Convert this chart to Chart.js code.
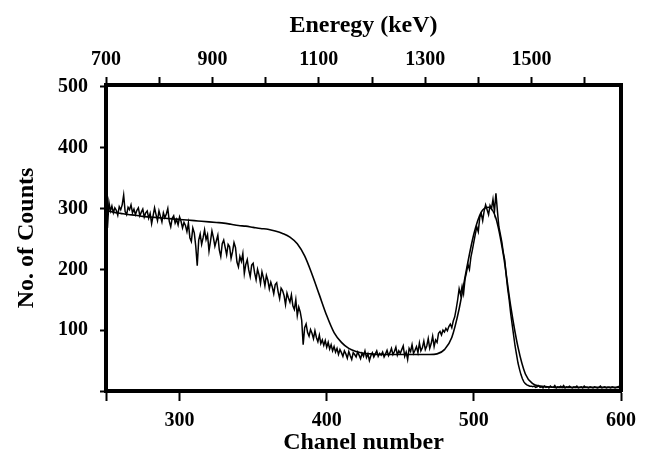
<!DOCTYPE html>
<html>
<head>
<meta charset="utf-8">
<script src="https://cdn.jsdelivr.net/npm/chart.js@4.4.1/dist/chart.umd.min.js"></script>
<style>
  html, body { margin: 0; padding: 0; background: #fff; }
</style>
</head>
<body>
<canvas id="chart" width="646" height="462"></canvas>
<script>
// measured spectrum, one count value per channel, channels 250..600
var measStart = 250, measStep = 1;
var measured = [
  300, 268, 310, 296, 304, 293, 301, 297, 289, 303,
  298, 306, 322, 295, 290, 302, 298, 306, 293, 299,
  290, 297, 301, 288, 294, 299, 286, 293, 296, 284,
  292, 275, 288, 301, 290, 280, 296, 287, 278, 293,
  285, 291, 300, 279, 270, 284, 288, 276, 282, 273,
  286, 279, 268, 277, 272, 262, 276, 252, 246, 268,
  260, 238, 206, 248, 258, 241, 252, 265, 249, 257,
  230, 246, 263, 252, 238, 247, 256, 232, 221, 242,
  248, 236, 224, 241, 237, 218, 229, 244, 236, 212,
  204, 221, 213, 226, 193, 208, 216, 199, 188, 207,
  210, 194, 183, 200, 191, 177, 196, 186, 173, 190,
  182, 168, 179, 171, 160, 175, 178, 163, 152, 169,
  165, 157, 142, 161, 153, 146, 158, 140, 134, 150,
  124, 138, 130, 116, 76, 104, 110, 96, 90, 101,
  95, 86, 99, 88, 81, 92, 78, 84, 75, 83,
  72, 80, 69, 76, 66, 73, 64, 70, 60, 68,
  63, 57, 66, 61, 54, 65, 58, 52, 63, 60,
  56, 64, 59, 53, 62, 57, 66, 55, 61, 50,
  58, 63, 56, 61, 66, 57, 62, 59, 64, 56,
  61, 67, 58, 63, 70, 60, 65, 72, 59, 66,
  62, 68, 74, 57, 64, 52, 70, 65, 76, 62,
  67, 73, 63, 79, 66, 71, 82, 68, 74, 86,
  70, 78, 90, 73, 84, 80, 95, 98, 92, 100,
  97, 103, 99, 106, 110, 104, 115, 122, 135, 150,
  168, 158, 172, 160, 184, 195, 208, 200, 220, 232,
  245, 258, 270, 262, 285, 292, 280, 296, 306, 298,
  290, 305, 300, 315, 295, 325, 296, 270, 258, 245,
  228, 215, 190, 168, 150, 128, 110, 92, 74, 60,
  46, 36, 27, 20, 15, 12, 10, 9, 8, 8,
  7, 8, 6, 7, 9, 6, 7, 5, 8, 6,
  7, 5, 8, 6, 6, 9, 5, 7, 6, 8,
  6, 9, 5, 7, 6, 8, 6, 5, 7, 6,
  8, 5, 6, 7, 5, 8, 6, 6, 5, 7,
  6, 5, 7, 6, 5, 6, 8, 5, 6, 7,
  5, 6, 6, 5, 7, 6, 5, 6, 7, 8,
  12
];

// simulated spectrum, channels 250..600 every 5 channels
var simStart = 250, simStep = 5;
var simulated = [
  297, 294, 292, 290, 289, 287, 286, 285, 284, 283,
  282, 281, 280, 279, 278, 277, 276, 274, 272, 271,
  269, 267, 266, 263, 259, 253, 242, 222, 192, 158,
  124, 96, 80, 70, 65, 62, 61, 60, 60, 60,
  60, 60, 60, 60, 60, 61, 68, 88, 135, 200,
  258, 294, 302, 284, 225, 140, 72, 28, 12, 8,
  7, 6, 6, 6, 6, 6, 6, 6, 6, 6, 6
];

var channelTicks = [250, 300, 400, 500, 600];
var energyTicks = [700, 800, 900, 1000, 1100, 1200, 1300, 1400, 1500, 1600];
var energyLabels = [700, 900, 1100, 1300, 1500];
var countTicks = [0, 100, 200, 300, 400, 500];

function toPoints(start, step, values) {
  return values.map(function (v, i) { return { x: start + i * step, y: v }; });
}

var tickFont = { family: 'Liberation Serif', weight: 'bold', size: 20 };
var titleFont = { family: 'Liberation Serif', weight: 'bold', size: 24 };
var edge = { display: true, width: 4, color: '#000' };

new Chart(document.getElementById('chart'), {
  type: 'line',
  data: {
    datasets: [
      {
        data: toPoints(measStart, measStep, measured),
        borderColor: '#000', borderWidth: 1.5, pointRadius: 0, tension: 0
      },
      {
        data: toPoints(simStart, simStep, simulated),
        borderColor: '#000', borderWidth: 1.6, pointRadius: 0,
        cubicInterpolationMode: 'monotone'
      }
    ]
  },
  options: {
    responsive: false,
    animation: false,
    layout: { padding: 0 },
    plugins: { legend: { display: false }, tooltip: { enabled: false } },
    scales: {
      x: {
        type: 'linear', position: 'bottom', min: 250, max: 600,
        afterBuildTicks: function (s) { s.ticks = channelTicks.map(function (v) { return { value: v }; }); },
        afterFit: function (s) { s.height = 71; },
        ticks: {
          autoSkip: false, maxRotation: 0, color: '#000', font: tickFont, padding: 8,
          callback: function (v) { return v === 250 ? '' : v; }
        },
        grid: { drawOnChartArea: false, tickLength: 10, tickWidth: 2, tickColor: '#000' },
        border: edge,
        title: { display: true, text: 'Chanel number', color: '#000', font: titleFont, padding: { top: 0, bottom: 5 } }
      },
      x2: {
        type: 'linear', position: 'top', min: 700, max: 1668,
        afterBuildTicks: function (s) { s.ticks = energyTicks.map(function (v) { return { value: v }; }); },
        afterFit: function (s) { s.height = 85; },
        ticks: {
          autoSkip: false, maxRotation: 0, color: '#000', font: tickFont, padding: 5,
          callback: function (v) { return energyLabels.indexOf(v) >= 0 ? v : ''; }
        },
        grid: { drawOnChartArea: false, tickLength: 8, tickWidth: 2, tickColor: '#000' },
        border: edge,
        title: { display: true, text: 'Eneregy (keV)', color: '#000', font: titleFont, padding: { top: 11, bottom: 0 } }
      },
      y: {
        type: 'linear', position: 'left', min: 0, max: 503,
        afterBuildTicks: function (s) { s.ticks = countTicks.map(function (v) { return { value: v }; }); },
        afterFit: function (s) { s.width = 106; },
        ticks: {
          color: '#000', font: tickFont, padding: 12,
          callback: function (v) { return v === 0 ? '' : v; }
        },
        grid: { drawOnChartArea: false, tickLength: 6, tickWidth: 2, tickColor: '#000' },
        border: edge,
        title: { display: true, text: 'No. of Counts', color: '#000', font: titleFont, padding: { top: 12, bottom: 0 } }
      },
      y2: {
        type: 'linear', position: 'right', min: 0, max: 503,
        afterBuildTicks: function (s) { s.ticks = []; },
        afterFit: function (s) { s.width = 25; },
        ticks: { display: false },
        grid: { drawOnChartArea: false, drawTicks: false },
        border: edge
      }
    }
  }
});
</script>
</body>
</html>
